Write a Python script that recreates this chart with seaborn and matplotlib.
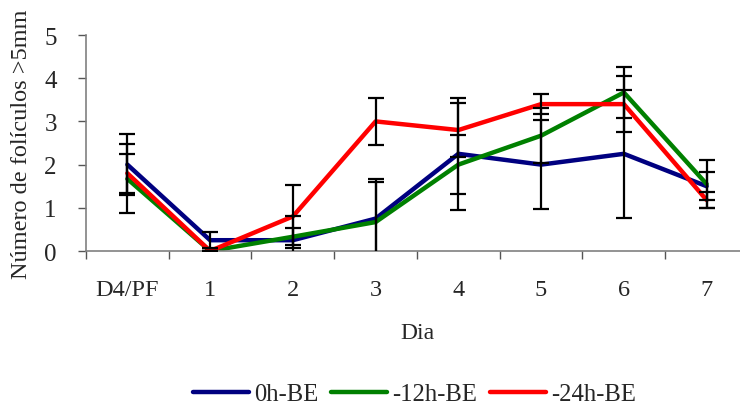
import matplotlib
matplotlib.use("Agg")
import matplotlib.pyplot as plt
import seaborn as sns
import pandas as pd
import numpy as np

# Data
dias = ["D4/PF", "1", "2", "3", "4", "5", "6", "7"]
grupos = ["0h-BE", "-12h-BE", "-24h-BE"]
cores = ["#000080", "#008000", "#FF0000"]

media_0h = [2.0, 0.25, 0.25, 0.75, 2.25, 2.0, 2.25, 1.5]
media_12h = [1.67, 0.0, 0.33, 0.67, 2.0, 2.67, 3.67, 1.55]
media_24h = [1.8, 0.0, 0.8, 3.0, 2.8, 3.4, 3.4, 1.18]

erro_0h = [0.7, 0.18, 0.55, 0.92, 1.3, 1.03, 1.48, 0.33]
erro_12h = [0.8, 0.0, 0.2, 0.93, 0.69, 0.63, 0.58, 0.55]
erro_24h = [0.45, 0.0, 0.72, 0.55, 0.63, 0.23, 0.65, 0.18]

medias = [media_0h, media_12h, media_24h]
erros = [erro_0h, erro_12h, erro_24h]

pos = np.arange(len(dias))
df = pd.DataFrame({
    "pos": np.tile(pos, len(grupos)),
    "valor": np.concatenate(medias),
    "grupo": np.repeat(grupos, len(dias)),
})

sns.set_style("white")
plt.rcParams["font.family"] = ["Liberation Serif", "DejaVu Serif"]

fig = plt.figure(figsize=(7.4, 4.06), dpi=100)
ax = fig.add_axes([0.1162, 0.3793, 0.8946, 0.532])

sns.lineplot(data=df, x="pos", y="valor", hue="grupo", palette=cores,
             hue_order=grupos, linewidth=3.2, sort=False, ax=ax, zorder=2)

# error bars on top of the lines
for m, e in zip(medias, erros):
    ax.errorbar(pos, m, yerr=e, fmt="none", ecolor="black", elinewidth=1.6,
                capsize=5.5, capthick=1.6, zorder=3)

ax.set_xlim(-0.5, 7.5)
ax.set_ylim(0, 5)
ax.set_yticks(range(6))
ax.set_xticks(pos)
ax.set_xticklabels(dias)
ax.set_xticks(np.arange(-0.5, 7.6, 1), minor=True)
ax.tick_params(axis="x", which="major", length=0, pad=20, labelsize=17.5)
ax.tick_params(axis="x", which="minor", length=6, width=1, color="#555555",
               direction="out", bottom=True)
ax.tick_params(axis="y", length=6, width=1, color="#555555", direction="out",
               left=True, labelsize=18, pad=15)

for s in ["top", "right"]:
    ax.spines[s].set_visible(False)
for s in ["left", "bottom"]:
    ax.spines[s].set_color("#808080")
    ax.spines[s].set_linewidth(1.2)

ax.set_xlabel("Dia", fontsize=17, labelpad=16)
ax.set_ylabel("Número de folículos >5mm", fontsize=17.5, labelpad=9)

handles, labels = ax.get_legend_handles_labels()
ax.legend_.remove()
fig.legend(handles, labels, loc="center", bbox_to_anchor=(0.56, 0.027),
           ncol=3, frameon=False, fontsize=17.7, handlelength=2.3,
           columnspacing=0.5, handletextpad=0.2)

fig.savefig("out.png", dpi=100)
